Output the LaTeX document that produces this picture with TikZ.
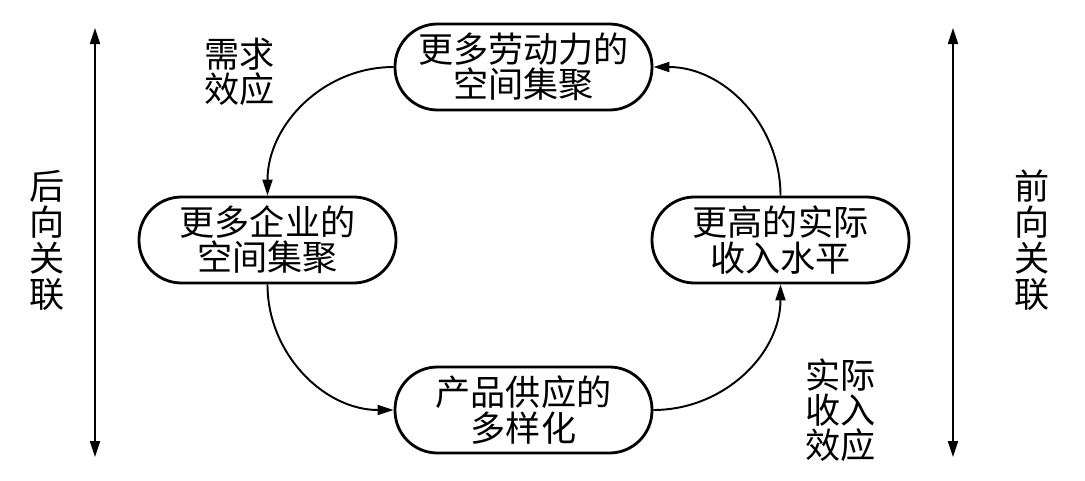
\documentclass[tikz,border=0pt]{standalone}
\usepackage{fontspec}
\newfontfamily\cjk{Noto Sans CJK SC}
\usetikzlibrary{arrows.meta}

\begin{document}
\begin{tikzpicture}[font=\cjk\fontsize{20}{20}\selectfont,
    loopbox/.style={draw, line width=1.6pt, rounded corners=0.85cm,
      minimum width=5.14cm, minimum height=1.72cm, align=center,
      inner sep=0pt},
    flow/.style={line width=1.1pt, -{Triangle[length=3.2mm,width=2mm]}},
    sidelink/.style={line width=1.1pt,
      {Triangle[length=3.2mm,width=2mm]}-{Triangle[length=3.2mm,width=2mm]}},
    vlabel/.style={align=center, inner sep=0pt}]
  % Fix the page size
  \useasboundingbox (0,0) rectangle (21.7,9.6);

  % Four stages of the cumulative loop
  \node[loopbox] (labour) at (10.47,8.26) {更多劳动力的\\空间集聚};
  \node[loopbox] (firms) at (5.35,4.8) {更多企业的\\空间集聚};
  \node[loopbox] (income) at (15.61,4.8) {更高的实际\\收入水平};
  \node[loopbox] (variety) at (10.47,1.4) {产品供应的\\多样化};

  % Curved connectors round the loop
  \draw[flow] (labour.west) to[out=180,in=90] (firms.north);
  \draw[flow] (firms.south) to[out=-90,in=180] (variety.west);
  \draw[flow] (variety.east) to[out=0,in=-90] (income.south);
  \draw[flow] (income.north) to[out=90,in=0] (labour.east);

  % Effect labels
  \node[vlabel] (demand) at (4.79,8.17) {需求\\效应};
  \node[vlabel] (realinc) at (16.81,1.4) {实际\\收入\\效应};

  % Side links: backward on the left, forward on the right
  \coordinate (backtop) at (1.9,9.04);
  \coordinate (backbot) at (1.9,0.46);
  \coordinate (foretop) at (19.06,9.04);
  \coordinate (forebot) at (19.06,0.46);
  \draw[sidelink] (backbot) -- (backtop);
  \draw[sidelink] (forebot) -- (foretop);
  \node[vlabel, font=\cjk\fontsize{20}{20.5}\selectfont] (backward) at (0.94,4.8) {后\\向\\关\\联};
  \node[vlabel, font=\cjk\fontsize{20}{20.5}\selectfont] (forward) at (20.65,4.8) {前\\向\\关\\联};
\end{tikzpicture}
\end{document}
